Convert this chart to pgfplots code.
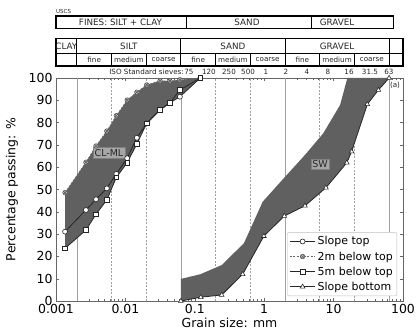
\documentclass[border=0pt]{standalone}
\usepackage{fontspec}
\setmainfont{DejaVu Sans}
\usepackage{pgfplots}
\pgfplotsset{compat=1.18}
\usetikzlibrary{plotmarks}
\definecolor{fillg}{HTML}{606060}
\definecolor{vline}{HTML}{A0A0A0}
\newcommand{\ta}[1]{{\fontsize{8.8}{10}\selectfont #1}}
\newcommand{\tb}[1]{{\fontsize{7.2}{8}\selectfont #1}}
\tikzset{tab/.style={text=black!85, inner sep=0pt}}
\begin{document}
\begin{tikzpicture}
\path[use as bounding box] (-56bp,-35bp) rectangle (360bp,301bp);
\begin{axis}[
  xmode=log, width=347bp, height=223bp, scale only axis,
  xmin=0.001, xmax=100, ymin=0, ymax=100, clip=false,
  xtick={0.001,0.01,0.1,1,10,100},
  xticklabels={0.001,0.01,0.1,1,10,100},
  ytick={0,10,...,100},
  tick pos=both, tick align=inside,
  major tick length=3bp, minor tick length=1.8bp,
  axis line style={black!60, line width=0.8pt},
  every tick/.style={black!60},
  /pgf/number format/assume math mode=true,
  tick label style={font=\fontsize{12.5}{14}\selectfont},
  xlabel={Grain size: mm}, ylabel={Percentage passing: \%},
  label style={font=\fontsize{12.5}{14}\selectfont},
  xlabel style={yshift=3bp},
  ylabel style={at={(rel axis cs:-0.127,0.5)}, anchor=center},
  legend style={at={(0.983,0.022)}, anchor=south east, draw=black!25, rounded corners=2pt,
    font=\fontsize{11}{12.5}\selectfont, row sep=1.3bp, inner sep=2.2pt},
  legend cell align=left,
  legend image code/.code={\draw[mark repeat=2,mark phase=2] plot coordinates {(0cm,0cm)(0.45cm,0cm)(0.9cm,0cm)};},
]
% vertical boundary lines
\foreach \xv in {0.002,0.063,2,63} {\edef\tmp{\noexpand\draw[vline, line width=0.7pt] (axis cs:\xv,0) -- (axis cs:\xv,100);}\tmp}
\foreach \xv in {0.0063,0.02,0.2,0.63,6.3,20} {\edef\tmp{\noexpand\draw[vline, line width=0.5pt, dash pattern=on 2pt off 1.5pt] (axis cs:\xv,0) -- (axis cs:\xv,100);}\tmp}
% fills
\addplot[fill=fillg, draw=none, forget plot] coordinates {
 (0.00135,48.6)(0.0027,62.2)(0.00377,69.5)(0.0054,76.2)(0.0074,83.1)(0.0106,90.1)(0.0146,93.6)(0.0203,96.9)(0.0316,98.7)(0.044,98.7)(0.061,99.2)(0.12,100)
 (0.061,91.6)(0.044,88.9)(0.0316,85.7)(0.0203,79.7)(0.0146,70.4)(0.0106,62.0)(0.0074,55.4)(0.0054,45.3)(0.00377,38.9)(0.0027,31.8)(0.00135,23.6)} -- cycle;
\addplot[fill=fillg, draw=none, forget plot] coordinates {
 (0.063,9.9)(0.12,12.0)(0.244,16.1)(0.51,25.9)(0.95,44.5)(2.0,55.7)(3.87,65.5)(7.1,75.2)(12.4,87.9)(15.8,100)(63,100)
 (44.2,94.6)(30.6,88.2)(18.2,67)(15.5,62)(7.76,50.8)(3.87,42.7)(1.95,38.1)(0.99,29.1)(0.49,12)(0.244,2.7)(0.122,1.7)(0.063,0)} -- cycle;
% series
\addplot[black!85, line width=0.8pt, mark=*, mark size=2.5bp, mark options={fill=white, draw=black!85, line width=0.6pt}] coordinates {
 (0.00135,31.1)(0.0027,40.8)(0.00377,45.6)(0.0054,50.5)(0.0074,57.0)(0.0106,64.0)(0.0146,73.2)(0.0203,79.7)(0.0316,85.7)(0.044,88.9)(0.061,91.6)(0.12,100)};
\addlegendentry{Slope top}
\addplot[black!60, line width=0.7pt, dash pattern=on 2pt off 1.5pt, mark=otimes*, mark size=2.3bp, mark options={solid, fill=black!20, draw=black!65, line width=0.6pt}] coordinates {
 (0.00135,48.6)(0.0027,62.2)(0.00377,69.5)(0.0054,76.2)(0.0074,83.1)(0.0106,90.1)(0.0146,93.6)(0.0203,96.9)(0.0316,98.7)(0.044,98.7)(0.061,99.2)};
\addlegendentry{2m below top}
\addplot[black!85, line width=0.8pt, mark=square*, mark size=2.3bp, mark options={fill=white, draw=black!85, line width=0.6pt}] coordinates {
 (0.00135,23.6)(0.0027,31.8)(0.00377,38.9)(0.0054,45.3)(0.0074,55.4)(0.0106,62.0)(0.0146,70.4)(0.0203,79.7)(0.0316,85.7)(0.044,88.9)(0.061,94.6)(0.12,100)};
\addlegendentry{5m below top}
\addplot[black!85, line width=0.8pt, mark=triangle*, mark size=2.7bp, mark options={fill=white, draw=black!85, line width=0.6pt}] coordinates {
 (0.063,0)(0.122,1.7)(0.244,2.7)(0.49,12)(0.99,29.1)(1.95,38.1)(3.87,42.7)(7.76,50.8)(15.5,62)(18.2,67)(30.6,88.2)(44.2,94.6)(63,100)};
\addlegendentry{Slope bottom}
% labels
\node[fill=black!35, draw=black!50, text=black!85, font=\fontsize{9.5}{11}\selectfont, inner sep=1.6pt] at (axis cs:0.0058,66.5) {CL-ML};
\node[fill=black!35, draw=black!50, text=black!85, font=\fontsize{9.5}{11}\selectfont, inner sep=1.6pt] at (axis cs:6.37,61.4) {SW};
\node[tab] at (axis cs:76.7,96.9) {\tb{(a)}};
% USCS table
\node[tab, anchor=west] at (axis cs:0.001,130) {{\fontsize{5.5}{6}\selectfont USCS}};
\draw[line width=1.1pt] (axis cs:0.001,122) rectangle (axis cs:74,127.8);
\draw[line width=1.1pt] (axis cs:0.075,122) -- (axis cs:0.075,127.8);
\draw[line width=1.1pt] (axis cs:4.75,122) -- (axis cs:4.75,127.8);
\node[tab] at (axis cs:0.0085,124.9) {\ta{FINES: SILT + CLAY}};
\node[tab] at (axis cs:0.565,124.9) {\ta{SAND}};
\node[tab] at (axis cs:11.2,124.9) {\ta{GRAVEL}};
% second table
\draw[line width=1.1pt] (axis cs:0.001,105.4) rectangle (axis cs:100,117.9);
\draw[line width=1.1pt] (axis cs:0.001,110.8) -- (axis cs:100,110.8);
\foreach \xv in {0.002,0.063,2,63} {\edef\tmp{\noexpand\draw[line width=1.1pt] (axis cs:\xv,105.4) -- (axis cs:\xv,117.9);}\tmp}
\foreach \xv in {0.0063,0.02,0.2,0.63,6.3,20} {\edef\tmp{\noexpand\draw[line width=0.7pt] (axis cs:\xv,105.4) -- (axis cs:\xv,110.8);}\tmp}
\node[tab] at (axis cs:0.00141,114.4) {\ta{CLAY}};
\node[tab] at (axis cs:0.0112,114.4) {\ta{SILT}};
\node[tab] at (axis cs:0.355,114.4) {\ta{SAND}};
\node[tab] at (axis cs:11.2,114.4) {\ta{GRAVEL}};
\node[tab] at (axis cs:0.00355,108.1) {\tb{fine}};
\node[tab] at (axis cs:0.0112,108.1) {\tb{medium}};
\node[tab] at (axis cs:0.0355,108.1) {\tb{coarse}};
\node[tab] at (axis cs:0.112,108.1) {\tb{fine}};
\node[tab] at (axis cs:0.355,108.1) {\tb{medium}};
\node[tab] at (axis cs:1.12,108.1) {\tb{coarse}};
\node[tab] at (axis cs:3.55,108.1) {\tb{fine}};
\node[tab] at (axis cs:11.2,108.1) {\tb{medium}};
\node[tab] at (axis cs:35.5,108.1) {\tb{coarse}};
% ISO sieves
\node[tab, anchor=east] at (axis cs:0.07,102.7) {\tb{ISO Standard sieves:}};
\node[tab] at (axis cs:0.0824,102.7) {\tb{75}};
\node[tab] at (axis cs:0.160,102.7) {\tb{120}};
\node[tab] at (axis cs:0.311,102.7) {\tb{250}};
\node[tab] at (axis cs:0.585,102.7) {\tb{500}};
\node[tab] at (axis cs:1.06,102.7) {\tb{1}};
\node[tab] at (axis cs:2.06,102.7) {\tb{2}};
\node[tab] at (axis cs:4.14,102.7) {\tb{4}};
\node[tab] at (axis cs:8.3,102.7) {\tb{8}};
\node[tab] at (axis cs:16.7,102.7) {\tb{16}};
\node[tab] at (axis cs:33.4,102.7) {\tb{31.5}};
\node[tab] at (axis cs:62.8,102.7) {\tb{63}};
\end{axis}
\end{tikzpicture}
\end{document}
